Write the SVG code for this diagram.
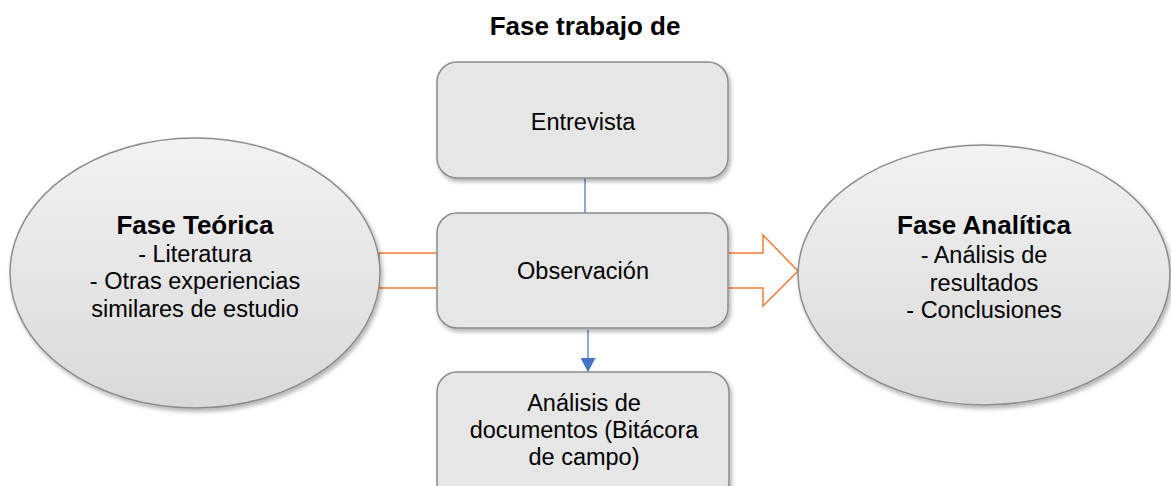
<svg xmlns="http://www.w3.org/2000/svg" width="1171" height="486" viewBox="0 0 1171 486">
<defs>
<filter id="sh" x="-10%" y="-10%" width="125%" height="130%">
<feDropShadow dx="2" dy="3" stdDeviation="2" flood-color="#000" flood-opacity="0.3"/>
</filter>
<linearGradient id="eg" x1="0" y1="0" x2="0" y2="1">
<stop offset="0" stop-color="#f2f2f2"/>
<stop offset="1" stop-color="#d9d9d9"/>
</linearGradient>
<marker id="ah" markerWidth="14" markerHeight="15" refX="14" refY="7.5" orient="auto" markerUnits="userSpaceOnUse">
<path d="M0,0 L14,7.5 L0,15 Z" fill="#4472c4"/>
</marker>
<style>
.box{fill:#e6e6e6;stroke:#8c8c8c;stroke-width:1.5;filter:url(#sh)}
.ell{fill:url(#eg);stroke:#8c8c8c;stroke-width:1.5;filter:url(#sh)}
.t{font-family:"Liberation Sans",Arial,sans-serif;font-size:23.5px;fill:#000;text-anchor:middle}
.b{font-weight:bold;font-size:26px}
.or{fill:#fff;stroke:#ed7d31;stroke-width:1.5}
.bl{stroke:#4472c4;stroke-width:1.2;fill:none}
</style>
</defs>
<rect width="1171" height="486" fill="#fff"/>
<text class="t b" x="585" y="35">Fase trabajo de</text>
<g id="connectors">
<path class="or" d="M437,253 L379,253 L379,288 L437,288"/>
<path class="or" d="M729,253 L763,253 L763,235 L798,271 L763,306 L763,288 L729,288"/>
<line class="bl" x1="585" y1="178" x2="585" y2="213"/>
<line class="bl" x1="588" y1="330" x2="588" y2="372" marker-end="url(#ah)"/>
</g>
<g id="fase-teorica">
<ellipse class="ell" cx="195" cy="273" rx="185" ry="135"/>
<text class="t b" x="195" y="234">Fase Teórica</text>
<text class="t" x="195" y="262">- Literatura</text>
<text class="t" x="195" y="289">- Otras experiencias</text>
<text class="t" x="195" y="317">similares de estudio</text>
</g>
<g id="fase-analitica">
<ellipse class="ell" cx="984" cy="275" rx="186" ry="130"/>
<text class="t b" x="984" y="234">Fase Analítica</text>
<text class="t" x="984" y="263">- Análisis de</text>
<text class="t" x="984" y="291">resultados</text>
<text class="t" x="984" y="318">- Conclusiones</text>
</g>
<g id="entrevista">
<rect class="box" x="437" y="62" width="291" height="116" rx="20"/>
<text class="t" x="583" y="130">Entrevista</text>
</g>
<g id="observacion">
<rect class="box" x="437" y="213" width="291" height="115" rx="20"/>
<text class="t" x="583" y="279">Observación</text>
</g>
<g id="analisis-documentos">
<rect class="box" x="437" y="372" width="292" height="130" rx="20"/>
<text class="t" x="584" y="411">Análisis de</text>
<text class="t" x="584" y="438">documentos (Bitácora</text>
<text class="t" x="584" y="465">de campo)</text>
</g>
</svg>
